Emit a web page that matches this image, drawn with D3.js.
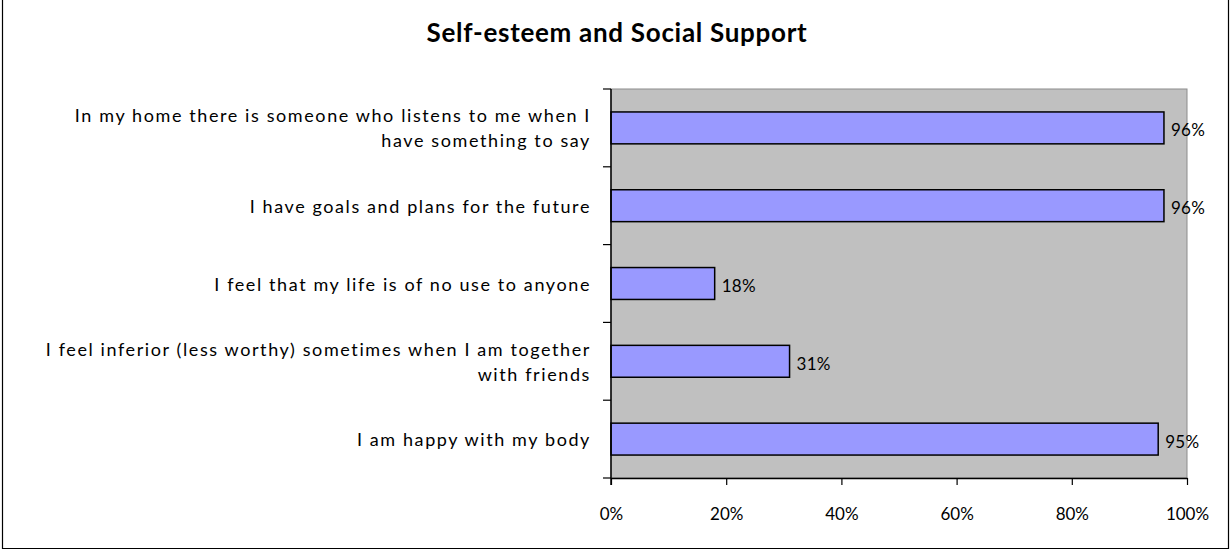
<!DOCTYPE html>
<html><head><meta charset="utf-8">
<script src="https://cdn.jsdelivr.net/npm/d3@7"></script>
<style>body{margin:0;background:#fff}svg{display:block}</style>
</head><body>
<svg id="chart" width="1231" height="550"></svg>
<script>
const title = "Self-esteem and Social Support";
const categories = [
  "In my home there is someone who listens to me when I\nhave something to say",
  "I have goals and plans for the future",
  "I feel that my life is of no use to anyone",
  "I feel inferior (less worthy) sometimes when I am together\nwith friends",
  "I am happy with my body"
];
const values = [96, 96, 18, 31, 95];
const xTicks = [0, 20, 40, 60, 80, 100];

const svg = d3.select("#chart");
const plot = {left: 611, right: 1187, top: 89, bottom: 478};
const font = "Lato, 'Open Sans', sans-serif";

// outer border (left, bottom, right)
svg.append("path")
  .attr("d", "M2.5,-2 V548.5 H1228.5 V-2")
  .attr("fill", "none").attr("stroke", "#000").attr("stroke-width", 1.2);

svg.append("text").attr("x", 617).attr("y", 42).attr("text-anchor", "middle")
  .attr("font-family", font).attr("font-weight", "bold").attr("font-size", 26)
  .attr("letter-spacing", 0.7)
  .attr("fill", "#000").text(title);

const x = d3.scaleLinear().domain([0, 100]).range([plot.left, plot.right]);
const y = d3.scaleBand().domain(categories).range([plot.top, plot.bottom]).padding(0);

// plot background
svg.append("rect").attr("x", plot.left).attr("y", plot.top)
  .attr("width", plot.right - plot.left).attr("height", plot.bottom - plot.top)
  .attr("fill", "#c0c0c0").attr("stroke", "#8c8c8c").attr("stroke-width", 1);

// bars
const barFrac = 0.41;
svg.append("g").selectAll("rect").data(categories).join("rect")
  .attr("x", x(0))
  .attr("y", d => y(d) + y.bandwidth() * (1 - barFrac) / 2)
  .attr("width", (d, i) => x(values[i]) - x(0))
  .attr("height", y.bandwidth() * barFrac)
  .attr("fill", "#9999ff").attr("stroke", "#000").attr("stroke-width", 1.5);

// value labels
svg.append("g").selectAll("text").data(categories).join("text")
  .attr("x", (d, i) => x(values[i]) + 7)
  .attr("y", d => y(d) + y.bandwidth() / 2 + 8.5)
  .attr("font-family", font).attr("font-size", 17).attr("fill", "#000")
  .attr("letter-spacing", 0.3)
  .text((d, i) => values[i] + "%");

// bottom axis
const xAxis = svg.append("g").attr("transform", `translate(0,${plot.bottom})`)
  .call(d3.axisBottom(x).tickValues(xTicks).tickFormat(d => d + "%").tickSize(7).tickPadding(23).tickSizeOuter(0));
xAxis.select(".domain").attr("stroke", "#000").attr("stroke-width", 1.5);
xAxis.selectAll(".tick line").attr("stroke", "#000").attr("stroke-width", 1.2);
xAxis.selectAll(".tick text").attr("font-family", font).attr("font-size", 17).attr("fill", "#000");

// left axis with ticks at band boundaries
const yAxis = svg.append("g");
yAxis.append("line").attr("x1", plot.left).attr("x2", plot.left)
  .attr("y1", plot.top).attr("y2", plot.bottom + 7)
  .attr("stroke", "#000").attr("stroke-width", 1.5);
const bounds = categories.map(c => y(c)).concat([y(categories[categories.length - 1]) + y.bandwidth()]);
yAxis.selectAll("line.t").data(bounds).join("line").attr("class", "t")
  .attr("x1", plot.left - 8).attr("x2", plot.left).attr("y1", d => d).attr("y2", d => d)
  .attr("stroke", "#000").attr("stroke-width", 1.2);

// category labels
const lineH = 25;
const lab = yAxis.selectAll("text.cat").data(categories).join("text").attr("class", "cat")
  .attr("font-family", font).attr("font-size", 18).attr("fill", "#000")
  .attr("letter-spacing", 1.6).attr("text-anchor", "end");
lab.each(function(d) {
  const lines = d.split("\n");
  const cy = y(d) + y.bandwidth() / 2 + 7 - (lines.length - 1) * lineH / 2;
  d3.select(this).selectAll("tspan").data(lines).join("tspan")
    .attr("x", 591).attr("y", (l, i) => cy + i * lineH).text(l => l);
});
</script>
</body></html>
